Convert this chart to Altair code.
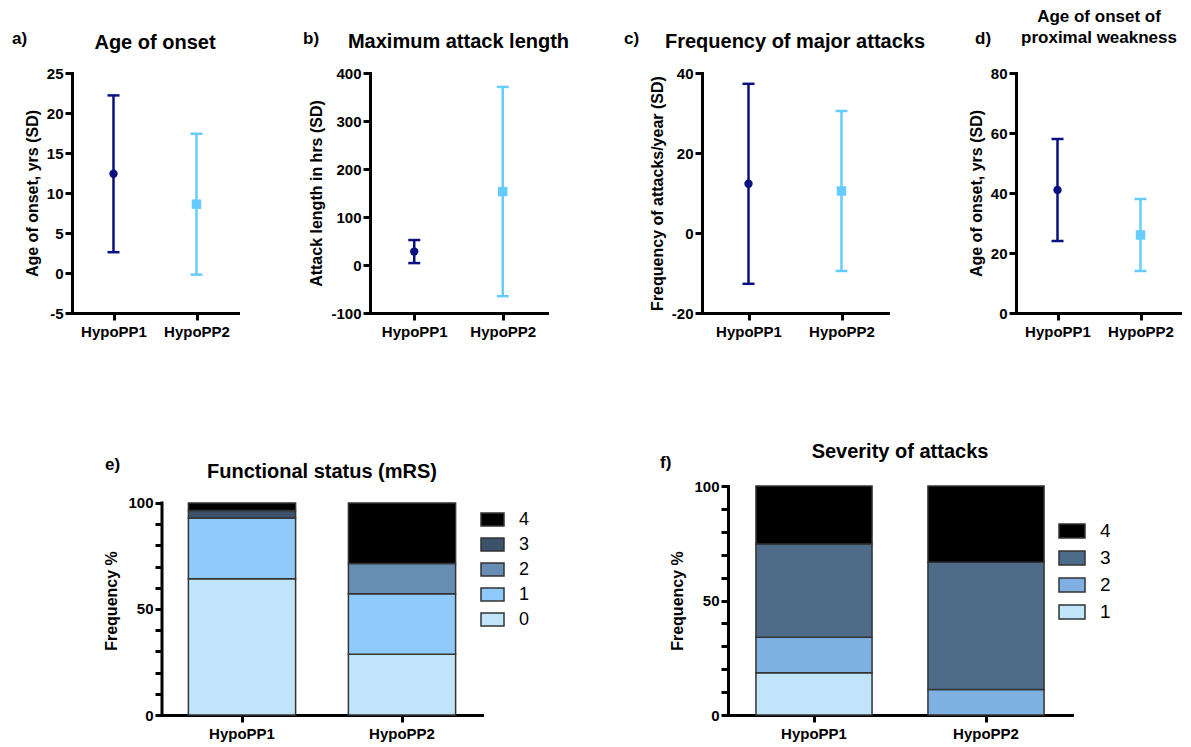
import altair as alt
import pandas as pd

FONT = "Liberation Sans"

# ---------------- data ----------------
groups = ["HypoPP1", "HypoPP2"]

a_mean = [12.4, 8.6]
a_sd = [9.8, 8.8]
b_mean = [28.0, 153.0]
b_sd = [24.0, 218.0]
c_mean = [12.3, 10.5]
c_sd = [25.0, 20.0]
d_mean = [41.0, 26.0]
d_sd = [17.0, 12.0]

e_levels = ["0", "1", "2", "3", "4"]
e_hypopp1 = [64.3, 28.6, 0.0, 3.6, 3.5]
e_hypopp2 = [28.6, 28.6, 14.2, 0.0, 28.6]

f_levels = ["1", "2", "3", "4"]
f_hypopp1 = [18.5, 15.5, 40.7, 25.3]
f_hypopp2 = [0.0, 11.1, 55.6, 33.3]

group_colors = ["#0A1082", "#66CCFF"]
group_shapes = ["circle", "square"]
e_colors = ["#C0E5FA", "#8FCAFC", "#688DB2", "#3C526B", "#000000"]
f_colors = ["#C0E5FA", "#7EB1E1", "#4E6C8A", "#000000"]

NEG_LABEL = "datum.value < 0 ? '-' + abs(datum.value) : '' + datum.value"


def text_layer(text, x, y, size, bold=True, align="left", baseline="alphabetic"):
    return alt.Chart(pd.DataFrame({"t": [text]})).mark_text(
        text=text, font=FONT, fontSize=size, fontWeight="bold" if bold else "normal",
        color="black", align=align, baseline=baseline
    ).encode(x=alt.value(x), y=alt.value(y))


def spacer(w, h=1):
    return alt.Chart(pd.DataFrame({"v": [0]})).mark_point(opacity=0, size=1).encode(
        x=alt.X("v:Q", axis=None, scale=alt.Scale(domain=[0, 1])),
        y=alt.Y("v:Q", axis=None, scale=alt.Scale(domain=[0, 1]))
    ).properties(width=w, height=h)


def err_panel(mean, sd, domain, step, ytitle, titles, letter, letter_x, width, height=240):
    df = pd.DataFrame({"group": groups, "mean": mean, "sd": sd})
    df["lo"] = df["mean"] - df["sd"]
    df["hi"] = df["mean"] + df["sd"]
    xenc = alt.X("group:N", sort=groups, scale=alt.Scale(type="point", padding=0.5),
                 axis=alt.Axis(title=None, labelAngle=0, labelPadding=4, tickSize=7))
    yscale = alt.Scale(domain=domain, nice=False, zero=False)
    tick_values = list(range(domain[0], domain[1] + 1, step))
    yaxis = alt.Axis(values=tick_values, tickCount=len(tick_values), titlePadding=6,
                     labelExpr=NEG_LABEL, labelOverlap=False)
    color = alt.Color("group:N", scale=alt.Scale(domain=groups, range=group_colors), legend=None)
    base = alt.Chart(df)
    rule = base.mark_rule(strokeWidth=2.5).encode(
        x=xenc, y=alt.Y("lo:Q", scale=yscale, axis=yaxis, title=ytitle), y2="hi:Q", color=color)
    cap_lo = base.mark_tick(size=12, thickness=2.5, opacity=1).encode(
        x=xenc, y=alt.Y("lo:Q", title=ytitle), color=color)
    cap_hi = base.mark_tick(size=12, thickness=2.5, opacity=1).encode(
        x=xenc, y=alt.Y("hi:Q", title=ytitle), color=color)
    pts = base.mark_point(filled=True, opacity=1).encode(
        x=xenc, y=alt.Y("mean:Q", title=ytitle), color=color,
        shape=alt.Shape("group:N", scale=alt.Scale(domain=groups, range=group_shapes), legend=None),
        size=alt.Size("group:N", scale=alt.Scale(domain=groups, range=[70, 90]), legend=None))
    layers = [rule, cap_lo, cap_hi, pts]
    for (txt, size, ty) in titles:
        layers.append(text_layer(txt, width / 2, ty, size, align="center"))
    layers.append(text_layer(letter, letter_x, -34, 17, baseline="middle"))
    return alt.layer(*layers).properties(width=width, height=height)


def bar_panel(levels, v1, v2, colors, ymax, width, height, pin, pout, title, title_y,
              letter, letter_x, letter_y, legend_x, legend_y, sym_w, sym_h, row_pad,
              label_size, hide_domain):
    rows = []
    for i, lvl in enumerate(levels):
        for g, vals in zip(groups, [v1, v2]):
            if vals[i] > 0:
                rows.append({"group": g, "level": lvl, "ord": i, "value": vals[i]})
    df = pd.DataFrame(rows)
    path = "M-1,{a}L1,{a}L1,{b}L-1,{b}Z".format(a=-sym_h / sym_w, b=sym_h / sym_w)
    yscale = alt.Scale(domain=[0, ymax], nice=False, zero=True)
    tick_values = list(range(0, 101, 10))
    yaxis = alt.Axis(values=tick_values, tickCount=len(tick_values),
                     labelExpr="datum.value % 50 == 0 ? datum.label : ''",
                     titlePadding=8, domain=not hide_domain, labelOverlap=False)
    bars = alt.Chart(df).mark_bar(stroke="#333333", strokeWidth=1.5, opacity=1).encode(
        x=alt.X("group:N", sort=groups,
                scale=alt.Scale(paddingInner=pin, paddingOuter=pout),
                axis=alt.Axis(title=None, labelAngle=0, bandPosition=0.5, labelPadding=4, tickSize=7)),
        y=alt.Y("value:Q", stack="zero", scale=yscale, axis=yaxis, title="Frequency %"),
        color=alt.Color("level:N", scale=alt.Scale(domain=levels[::-1], range=colors[::-1]),
                        legend=alt.Legend(orient="none", legendX=legend_x, legendY=legend_y,
                                          title=None, symbolType=path, symbolSize=sym_w * sym_w,
                                          symbolStrokeColor="#333333", symbolStrokeWidth=1.5,
                                          labelFont=FONT, labelFontSize=label_size, labelColor="black",
                                          labelFontWeight="normal", labelOffset=14,
                                          rowPadding=row_pad, symbolOpacity=1)),
        order=alt.Order("ord:Q", sort="ascending"),
    )
    layers = [bars]
    if hide_domain:
        layers.append(alt.Chart(pd.DataFrame({"v": [0]})).mark_rule(
            color="black", strokeWidth=3, strokeCap="square").encode(
            x=alt.value(0), y=alt.datum(0), y2=alt.datum(100)))
    layers.append(text_layer(title, width / 2, title_y, 20, align="center"))
    layers.append(text_layer(letter, letter_x, letter_y, 17, baseline="middle"))
    return alt.layer(*layers).properties(width=width, height=height)


pa = err_panel(a_mean, a_sd, [-5, 25], 5, "Age of onset, yrs (SD)",
               [("Age of onset", 20, -24)], "a)", -60, 166)
pb = err_panel(b_mean, b_sd, [-100, 400], 100, "Attack length in hrs (SD)",
               [("Maximum attack length", 20, -25)], "b)", -67, 177)
pc = err_panel(c_mean, c_sd, [-20, 40], 20, "Frequency of attacks/year (SD)",
               [("Frequency of major attacks", 20, -25)], "c)", -78, 186)
pd_ = err_panel(d_mean, d_sd, [0, 80], 20, "Age of onset, yrs (SD)",
                [("Age of onset of", 17, -51), ("proximal weakness", 17, -30)], "d)", -41, 166)

pe = bar_panel(e_levels, e_hypopp1, e_hypopp2, e_colors, 108, 320, 229, 0.33, 0.165,
               "Functional status (mRS)", -8, "e)", -57, -21, 318, 21, 23, 13, 3, 18, True)
pf = bar_panel(f_levels, f_hypopp1, f_hypopp2, f_colors, 100, 344, 229, 0.325, 0.1625,
               "Severity of attacks", -28, "f)", -68, -23, 330, 31, 26, 14, 3, 19, False)

row1 = alt.hconcat(pa, spacer(132), pb, spacer(155), pc, spacer(128), pd_,
                   spacing=0, bounds="flush")
row2 = alt.hconcat(spacer(90), pe, spacer(246), pf, spacing=0, bounds="flush").resolve_scale(
    color="independent")

chart = alt.vconcat(row1, row2, spacing=103).resolve_scale(
    color="independent", shape="independent", size="independent"
).properties(
    padding={"left": 4, "top": 0, "right": 0, "bottom": 4}
).configure_view(stroke=None).configure_axis(
    labelFont=FONT, labelFontSize=15, labelFontWeight="bold", labelColor="black",
    titleFont=FONT, titleFontSize=16, titleFontWeight="bold", titleColor="black",
    domainColor="black", domainWidth=3, domainCap="square",
    tickColor="black", tickWidth=3, tickSize=7, grid=False, labelPadding=2,
    labelOverlap=False,
)

chart.save("out.html", embed_options={"renderer": "svg", "actions": False})
